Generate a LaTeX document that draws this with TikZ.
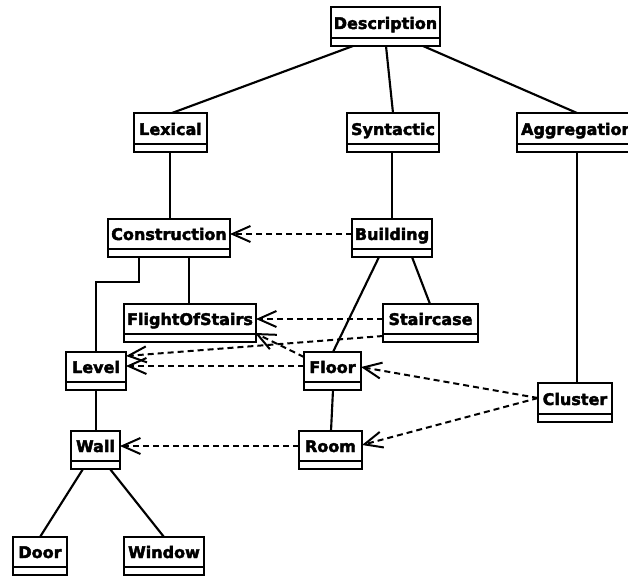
\documentclass[tikz,border=0pt]{standalone}
\usepackage{fontspec}
\setmainfont{DejaVu Sans}[BoldFeatures={FakeBold=2.5}]
\usetikzlibrary{arrows.meta,calc}
\tikzset{
  clsbox/.style={draw=black, line width=1.8pt, inner sep=0pt, outer sep=0pt, fill=white},
  clsline/.style={draw=black, line width=1.8pt},
  clstext/.style={anchor=base, inner sep=0pt, font=\bfseries\fontsize{12pt}{14pt}\selectfont},
  assoc/.style={draw=black, line width=1.6pt},
  dep/.style={draw=black, line width=1.5pt, dash pattern=on 4.5pt off 3pt,
    -{Straight Barb[length=13.5pt, width=12pt, line width=1.5pt]}},
}
\newcommand\umlclass[6]{%
  \node[clsbox, minimum width={(#4-#2)*0.75pt}, minimum height={(#5-#3)*0.75pt}] (#1) at ({(#2+#4)/2},{(#3+#5)/2}) {};
  \draw[clsline] ($(#1.south west)+(0,-8)$) -- ($(#1.south east)+(0,-8)$);
  \node[clstext] (#1-label) at ({(#2+#4)/2},{#5-17}) {#6};
}
\begin{document}
\begin{tikzpicture}[x=0.75pt, y=-0.75pt]
\useasboundingbox (0,0) rectangle (628,577);
\clip (0,0) rectangle (628,577);
\fill[white] (0,0) rectangle (628,577);

\umlclass{desc}{331}{7}{440}{46}{Description}
\umlclass{lex}{134}{113}{207}{152}{Lexical}
\umlclass{syn}{347}{113}{439}{152}{Syntactic}
\umlclass{agg}{517}{113}{637}{152}{Aggregation}
\umlclass{cons}{108}{219}{230}{257}{Construction}
\umlclass{bld}{352}{219}{432}{257}{Building}
\umlclass{fos}{124}{304}{256}{342}{FlightOfStairs}
\umlclass{stair}{383}{304}{478}{342}{Staircase}
\umlclass{lvl}{66}{352}{126}{390}{Level}
\umlclass{floor}{304}{352}{361}{390}{Floor}
\umlclass{clu}{538}{383}{612}{422}{Cluster}
\umlclass{wall}{71}{431}{120}{469}{Wall}
\umlclass{room}{299}{431}{362}{469}{Room}
\umlclass{door}{13}{537}{67}{575}{Door}
\umlclass{win}{124}{537}{204}{575}{Window}

% associations
\draw[assoc] ($(desc.south west)+(22,0)$) -- ($(lex.north west)+(38,0)$);
\draw[assoc] ($(desc.south west)+(55,0)$) -- ($(syn.north west)+(46,0)$);
\draw[assoc] ($(desc.south west)+(92,0)$) -- ($(agg.north west)+(60,0)$);
\draw[assoc] ($(lex.south west)+(36,0)$) -- ($(cons.north west)+(62,0)$);
\draw[assoc] ($(syn.south west)+(45,0)$) -- ($(bld.north west)+(40,0)$);
\draw[assoc] ($(agg.south west)+(60,0)$) -- ($(clu.north west)+(39,0)$);
\draw[assoc] ($(cons.south west)+(31,0)$) -- ($(cons.south west)+(31,25)$) -| ($(lvl.north west)+(30,0)$);
\draw[assoc] ($(cons.south west)+(81,0)$) -- ($(fos.north west)+(65,0)$);
\draw[assoc] ($(bld.south west)+(27,0)$) -- ($(floor.north west)+(29,0)$);
\draw[assoc] ($(bld.south west)+(60,0)$) -- ($(stair.north west)+(47,0)$);
\draw[assoc] ($(floor.south west)+(29,0)$) -- ($(room.north west)+(32,0)$);
\draw[assoc] ($(lvl.south west)+(30,0)$) -- ($(wall.north west)+(25,0)$);
\draw[assoc] ($(wall.south west)+(12,0)$) -- ($(door.north west)+(27,0)$);
\draw[assoc] ($(wall.south west)+(39,0)$) -- ($(win.north west)+(40,0)$);

% dependencies
\draw[dep] ($(bld.north west)+(0,15)$) -- ($(cons.north east)+(0,15)$);
\draw[dep] ($(stair.north west)+(0,15)$) -- ($(fos.north east)+(0,15)$);
\draw[dep] ($(stair.north west)+(0,32)$) -- ($(lvl.north east)+(0,4)$);
\draw[dep] ($(floor.north west)+(0,5)$) -- ($(fos.south east)+(-1,-9)$);
\draw[dep] ($(floor.north west)+(0,14)$) -- ($(lvl.north east)+(0,14)$);
\draw[dep] ($(clu.north west)+(0,15)$) -- ($(floor.north east)+(0,15)$);
\draw[dep] ($(clu.north west)+(0,15)$) -- ($(room.north east)+(0,14)$);
\draw[dep] ($(room.north west)+(0,15)$) -- ($(wall.north east)+(0,15)$);
\end{tikzpicture}
\end{document}
